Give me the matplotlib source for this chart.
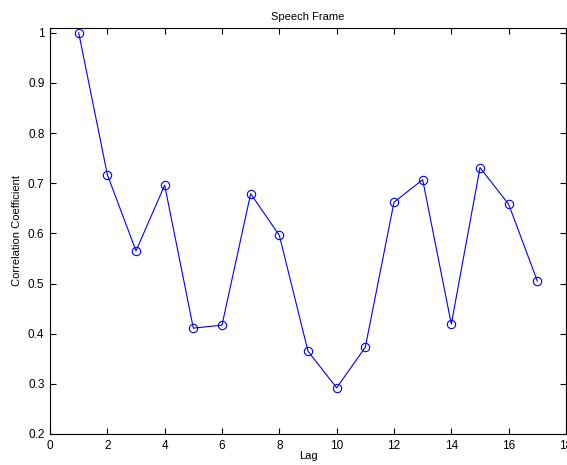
import matplotlib
matplotlib.use("Agg")
import matplotlib.pyplot as plt

plt.rcParams["font.family"] = ["Liberation Sans", "DejaVu Sans"]

# autocorrelation of a speech frame
lags = [1, 2, 3, 4, 5, 6, 7, 8, 9, 10, 11, 12, 13, 14, 15, 16, 17]
corr = [1.0, 0.717, 0.565, 0.696, 0.411, 0.417, 0.679, 0.596, 0.365,
        0.292, 0.373, 0.662, 0.707, 0.419, 0.731, 0.658, 0.505]

x_ticks = [0, 2, 4, 6, 8, 10, 12, 14, 16, 18]
y_ticks = [0.2, 0.3, 0.4, 0.5, 0.6, 0.7, 0.8, 0.9, 1.0]
y_tick_labels = ["0.2", "0.3", "0.4", "0.5", "0.6", "0.7", "0.8", "0.9", "1"]

fig = plt.figure(figsize=(5.67, 4.65), dpi=100)
ax = fig.add_axes([0.0882, 0.0667, 0.9100, 0.8731])

ax.plot(lags, corr, color="blue", linewidth=0.8, marker="o",
        markersize=6, markerfacecolor="none", markeredgecolor="blue",
        markeredgewidth=0.8)

ax.set_xlim(0, 18)
ax.set_ylim(0.2, 1.0094)
ax.set_xticks(x_ticks)
ax.set_yticks(y_ticks)
ax.set_yticklabels(y_tick_labels)
ax.tick_params(direction="in", top=True, right=True, labelsize=8.5,
               length=4, width=0.8, pad=4)
for spine in ax.spines.values():
    spine.set_linewidth(0.8)

ax.set_title("Speech Frame", fontsize=8, pad=6)
ax.set_xlabel("Lag", fontsize=8)
ax.xaxis.set_label_coords(0.5, -0.043)
ax.set_ylabel("Correlation Coefficient", fontsize=8)
ax.yaxis.set_label_coords(-0.055, 0.5)

fig.savefig("out.png", dpi=100)
